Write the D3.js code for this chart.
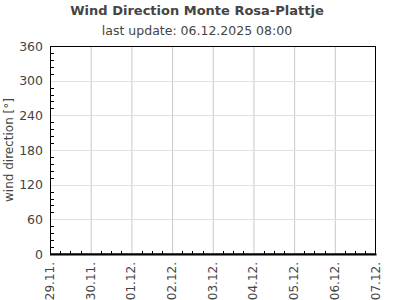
<!DOCTYPE html>
<html><head><meta charset="utf-8">
<script src="https://cdn.jsdelivr.net/npm/d3@7"></script>
<style>body{margin:0;background:#fff;} svg{display:block;font-family:"DejaVu Sans",sans-serif;}</style>
</head><body><svg id="c" width="395" height="300"></svg>
<script>
const title = "Wind Direction Monte Rosa-Plattje";
const subtitle = "last update: 06.12.2025 08:00";
const yLabel = "wind direction [°]";
const yTicks = [0, 60, 120, 180, 240, 300, 360];
const xTickLabels = ["29.11.", "30.11.", "01.12.", "02.12.", "03.12.", "04.12.", "05.12.", "06.12.", "07.12."];
const xStart = "2025-11-29T00:00:00";
const xEnd = "2025-12-07T00:00:00";
const windDir = []; // no data shown

const svg = d3.select("#c");
const m = {l: 50, r: 19.5, t: 46, b: 46};
const W = 395, H = 300;
const x = d3.scaleTime().domain([new Date(xStart), new Date(xEnd)]).range([m.l, W - m.r]);
const y = d3.scaleLinear().domain([0, 360]).range([H - m.b, m.t]);

// grid
const days = d3.timeDay.range(new Date(xStart), d3.timeDay.offset(new Date(xEnd), 1));
svg.append("g").selectAll("line").data(days.slice(1, -1)).join("line")
  .attr("x1", d => x(d) + 0.5).attr("x2", d => x(d) + 0.5)
  .attr("y1", m.t).attr("y2", H - m.b).attr("stroke", "#c8c8c8");
svg.append("g").selectAll("line").data(yTicks.slice(1, -1)).join("line")
  .attr("x1", m.l).attr("x2", W - m.r)
  .attr("y1", d => Math.round(y(d)) + 0.5).attr("y2", d => Math.round(y(d)) + 0.5).attr("stroke", "#e0e0e0");

// minor ticks
const yMinor = d3.range(0, 361, 12).filter(v => v % 60 !== 0);
svg.append("g").selectAll("line").data(yMinor).join("line")
  .attr("x1", m.l).attr("x2", m.l + 4)
  .attr("y1", d => Math.round(y(d)) + 0.5).attr("y2", d => Math.round(y(d)) + 0.5).attr("stroke", "#000");
const xMinor = d3.timeHour.every(6).range(new Date(xStart), new Date(xEnd)).filter(d => d.getHours() !== 0);
svg.append("g").selectAll("line").data(xMinor).join("line")
  .attr("x1", d => Math.round(x(d)) + 0.5).attr("x2", d => Math.round(x(d)) + 0.5)
  .attr("y1", H - m.b).attr("y2", H - m.b - 3).attr("stroke", "#000");

// frame
svg.append("rect").attr("x", m.l + 0.5).attr("y", m.t + 0.5)
  .attr("width", W - m.r - m.l - 0.5).attr("height", H - m.b - m.t - 0.5)
  .attr("fill", "none").attr("stroke", "#000");
svg.append("line").attr("x1", m.l).attr("x2", W - m.r + 1).attr("y1", H - m.b + 0.5).attr("y2", H - m.b + 0.5)
  .attr("stroke", "#000").attr("stroke-width", 2);

// y tick labels
svg.append("g").selectAll("text").data(yTicks).join("text")
  .attr("x", 43).attr("y", d => y(d) + 4.5).attr("text-anchor", "end")
  .attr("font-size", 12.5).attr("fill", "#444").text(d => d);

// x tick labels
svg.append("g").selectAll("text").data(days.slice(0, xTickLabels.length)).join("text")
  .attr("transform", d => `translate(${x(d) + 4},${H - m.b + 8}) rotate(-90)`)
  .attr("text-anchor", "end").attr("font-size", 12).attr("fill", "#444")
  .text((d, i) => xTickLabels[i]);

// titles
svg.append("text").attr("x", 197).attr("y", 15).attr("text-anchor", "middle")
  .attr("font-size", 13).attr("font-weight", "bold").attr("fill", "#444").text(title);
svg.append("text").attr("x", 197).attr("y", 35).attr("text-anchor", "middle")
  .attr("font-size", 12.5).attr("fill", "#444").text(subtitle);
svg.append("text").attr("transform", `translate(13,${(m.t + H - m.b) / 2}) rotate(-90)`)
  .attr("text-anchor", "middle").attr("font-size", 12).attr("fill", "#444").text(yLabel);
</script></body></html>
